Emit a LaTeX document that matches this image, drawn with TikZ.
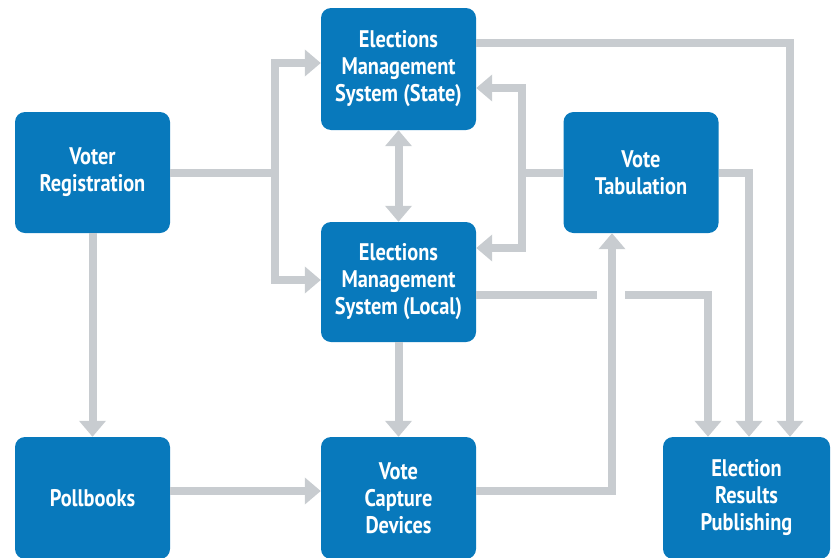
\documentclass[tikz,border=0pt]{standalone}
\usepackage{fontspec}
\setmainfont{PT Sans}[FakeStretch=0.85]
\usetikzlibrary{arrows.meta}
\definecolor{boxblue}{RGB}{8,121,188}
\definecolor{conngray}{RGB}{200,204,208}
\tikzset{
  box/.style={draw=none, fill=boxblue, rounded corners=10pt, text=white,
    font=\fontsize{24}{27}\selectfont\bfseries, align=center, inner sep=0pt},
  line/.style={draw=conngray, line width=8pt},
  arr/.style={line, -{Triangle[width=26pt,length=16pt]}},
  darr/.style={line, {Triangle[width=26pt,length=16pt]}-{Triangle[width=26pt,length=16pt]}},
}
\begin{document}
\begin{tikzpicture}[x=1pt,y=-1pt]
\useasboundingbox (0,0) rectangle (834,557);
\node[box, minimum width=155pt, minimum height=121pt] (vr) at (92.5,172.5) {Voter\\Registration};
\node[box, minimum width=155pt, minimum height=122pt] (ems) at (398.5,69) {Elections\\Management\\System (State)};
\node[box, minimum width=155pt, minimum height=121pt] (vt) at (641,172.5) {Vote\\Tabulation};
\node[box, minimum width=155pt, minimum height=120pt] (eml) at (398.5,282) {Elections\\Management\\System (Local)};
\node[box, minimum width=155pt, minimum height=122pt] (pb) at (92.5,498) {Pollbooks};
\node[box, minimum width=155pt, minimum height=122pt] (vcd) at (398.5,498) {Vote\\Capture\\Devices};
\node[box, minimum width=167pt, minimum height=122pt] (erp) at (746.5,498) {Election\\Results\\Publishing};

\coordinate (j1) at (275,172.5);
\draw[line] (vr.east) -- (j1);
\draw[arr] (j1) |- ([yshift=6pt]ems.west);
\draw[arr] (j1) |- ([yshift=2pt]eml.west);

\coordinate (j2) at (522,172.5);
\draw[line] (vt.west) -- (j2);
\draw[arr] (j2) |- ([yshift=-19pt]ems.east);
\draw[arr] (j2) |- ([yshift=34pt]eml.east);

\draw[darr] (ems.south) -- (eml.north);
\draw[arr] (vr.south) -- (pb.north);
\draw[arr] (eml.south) -- (vcd.north);
\draw[arr] ([yshift=7pt]pb.east) -- ([yshift=7pt]vcd.west);
\draw[arr] ([yshift=7pt]vcd.east) -| ([xshift=-29pt]vt.south);

\coordinate (g1) at (597,295);
\coordinate (g2) at (625,295);
\draw[line] ([yshift=-13pt]eml.east) -- (g1);
\draw[arr] (g2) -| ([xshift=-38.5pt]erp.north);
\draw[arr] (vt.east) -| ([xshift=2.5pt]erp.north);
\draw[arr] ([yshift=26pt]ems.east) -| ([xshift=43.5pt]erp.north);
\end{tikzpicture}
\end{document}
